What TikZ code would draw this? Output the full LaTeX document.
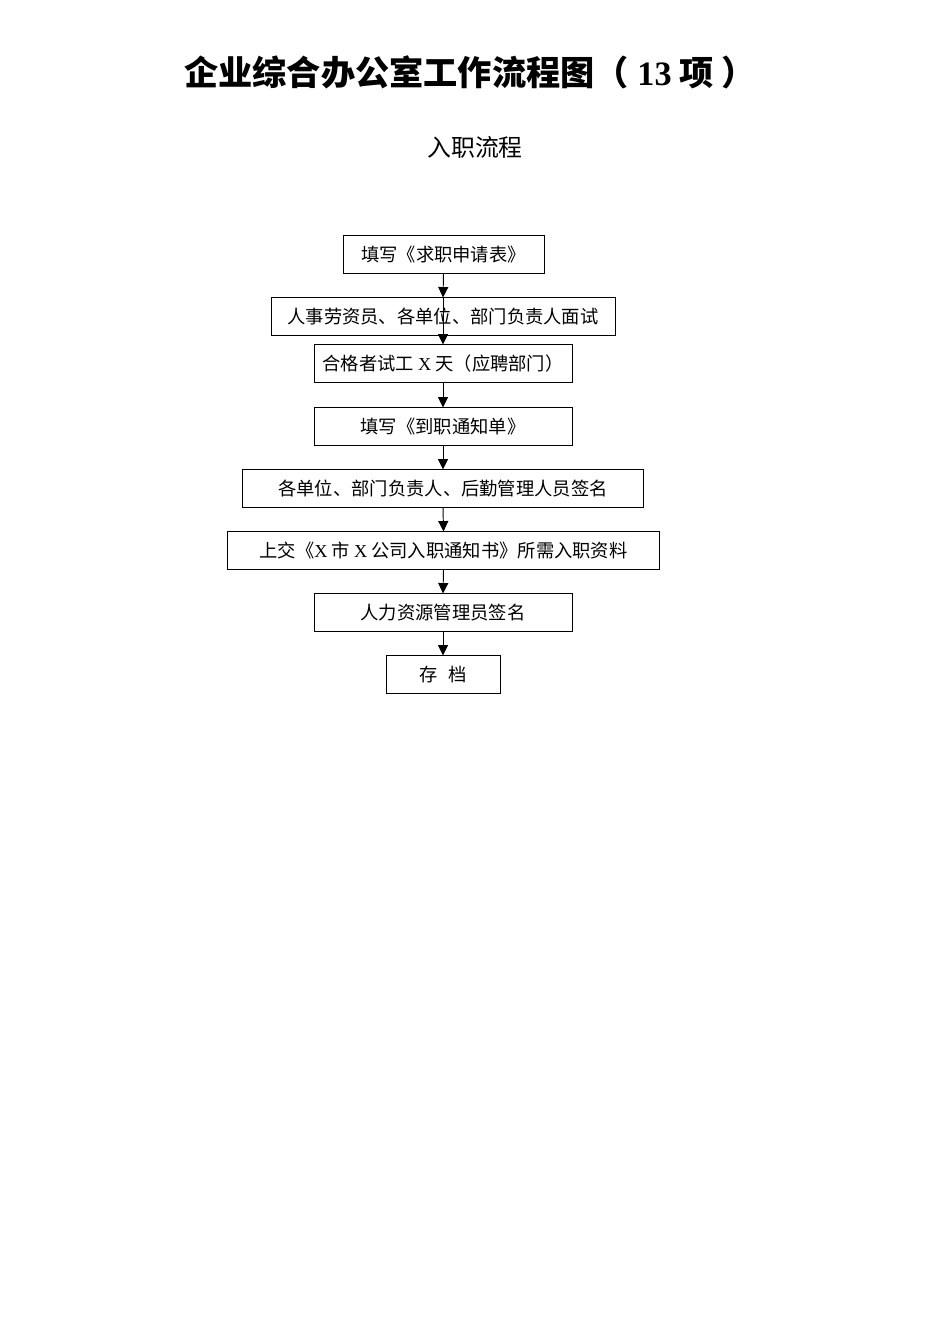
\documentclass[tikz,border=0pt]{standalone}
\usepackage{fontspec}
\setmainfont{Liberation Serif}
\newfontfamily\cjk{Noto Sans CJK SC}
\usetikzlibrary{arrows.meta}
\newcommand{\lat}[1]{{\rmfamily #1}}
\tikzset{
  schritt/.style={draw, line width=0.6pt, minimum height=0.82cm, inner sep=0pt,
    font=\cjk\fontsize{11.5}{13}\selectfont},
  pfeil/.style={-{Triangle[length=2.3mm,width=2.2mm]}, line width=0.6pt}
}
\begin{document}
\begin{tikzpicture}[x=0.0221cm, y=-0.0221cm]
        \useasboundingbox (0,0) rectangle (950,1344);

        % Ueberschriften
        \node (titel) at (470,72) {\cjk\fontsize{21.5}{24}\bfseries\selectfont 企业综合办公室工作流程图（\lat{\textbf{ 13}} 项 ）};
        \node (untertitel) at (475,147) {\cjk\fontsize{15}{18}\selectfont 入职流程};

        % Schritte
        \node[schritt, minimum width=4.44cm] (s1) at (443.5,254.5) {填写《求职申请表》};
        \node[schritt, minimum width=7.60cm] (s2) at (443,316.5) {人事劳资员、各单位、部门负责人面试};
        \node[schritt, minimum width=5.70cm] (s3) at (443,363.5) {合格者试工 \lat{X} 天（应聘部门）};
        \node[schritt, minimum width=5.70cm] (s4) at (443,426.5) {填写《到职通知单》};
        \node[schritt, minimum width=8.88cm] (s5) at (443,488.5) {各单位、部门负责人、后勤管理人员签名};
        \node[schritt, minimum width=9.53cm] (s6) at (443.5,550.5) {上交《\lat{X} 市 \lat{X} 公司入职通知书》所需入职资料};
        \node[schritt, minimum width=5.70cm] (s7) at (443,612.5) {人力资源管理员签名};
        \node[schritt, minimum width=2.52cm] (s8) at (443,674.5) {存\hspace{0.6em}档};

        % Pfeile
        \draw[pfeil] (s1.south) -- (s2.north);
        \draw[pfeil] (s2.north) -- (s3.north);
        \draw[pfeil] (s3.south) -- (s4.north);
        \draw[pfeil] (s4.south) -- (s5.north);
        \draw[pfeil] (s5.south) -- (s6.north);
        \draw[pfeil] (s6.south) -- (s7.north);
        \draw[pfeil] (s7.south) -- (s8.north);
    \end{tikzpicture}
\end{document}
